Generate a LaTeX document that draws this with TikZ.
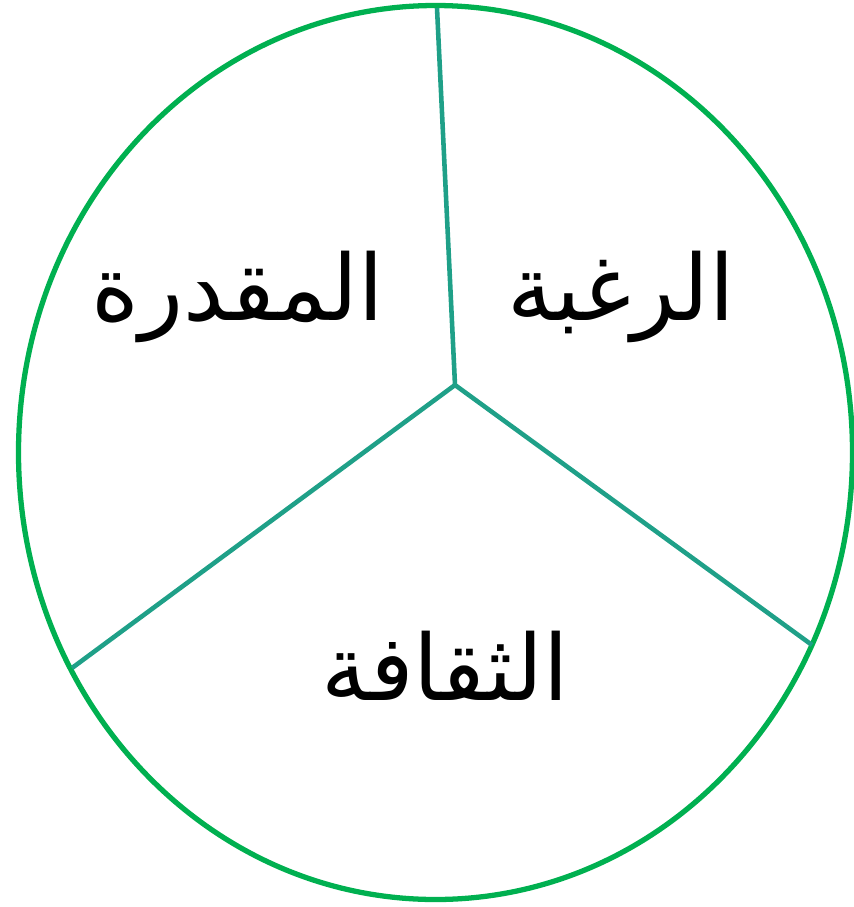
\documentclass[tikz,border=0pt]{standalone}
\usepackage{fontspec}
\newfontfamily\arabicfont[Script=Arabic]{DejaVu Sans}
\TeXXeTstate=1
\usepackage{tikz}
\usetikzlibrary{positioning, calc}
\usepackage{xcolor}
\definecolor{ringgreen}{RGB}{0,176,80}
\definecolor{spoketeal}{RGB}{31,160,136}

\begin{document}
\begin{tikzpicture}[x=0.02cm, y=-0.02cm]
  \useasboundingbox (0,0) rectangle (854,907);
  % Outer ring
  \draw[ringgreen, line width=3pt] (435.5,452.5) ellipse [x radius=417, y radius=447];

  % Spokes
  \coordinate (hub) at (455,385);
  \coordinate (top) at (437,8);
  \coordinate (right) at (812,645);
  \coordinate (left) at (72,668);
  \draw[spoketeal, line width=2.6pt] (hub) -- (top);
  \draw[spoketeal, line width=2.6pt] (hub) -- (right);
  \draw[spoketeal, line width=2.6pt] (hub) -- (left);

  % Labels
  \node[font=\fontsize{52}{60}\arabicfont] (ability) at (238,297) {\beginR المقدرة\endR};
  \node[font=\fontsize{52}{60}\arabicfont] (desire) at (621,297) {\beginR الرغبة\endR};
  \node[font=\fontsize{52}{60}\arabicfont] (culture) at (445,666) {\beginR الثقافة\endR};
\end{tikzpicture}
\end{document}
